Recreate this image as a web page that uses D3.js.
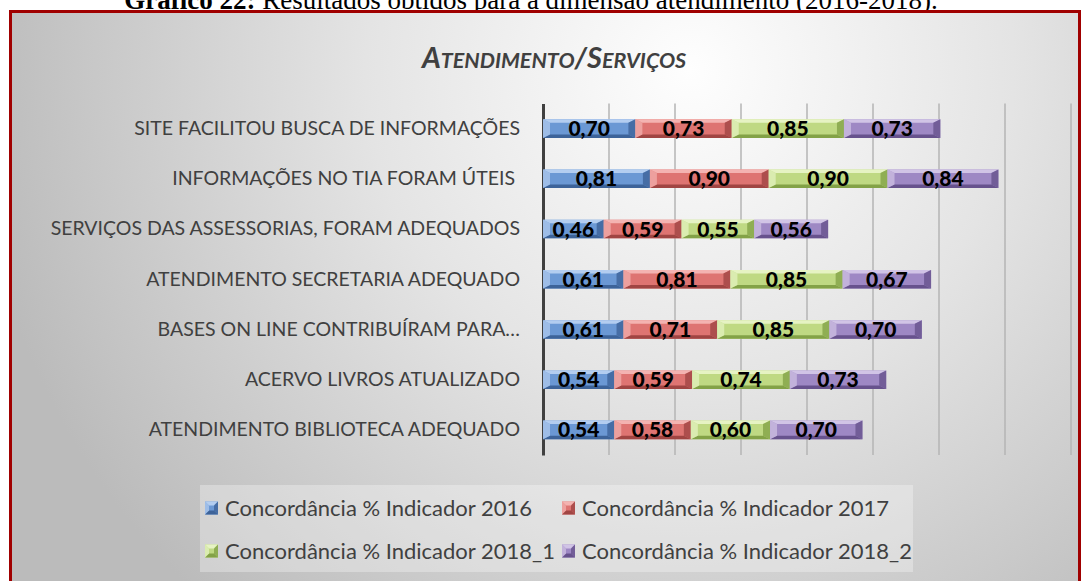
<!DOCTYPE html>
<html>
<head>
<meta charset="utf-8">
<script src="https://cdn.jsdelivr.net/npm/d3@7"></script>
<style>
  body { margin: 0; background: #fff; }
  svg { display: block; }
</style>
</head>
<body>
<div id="chart"></div>
<script>
// chart size
var width = 1085;
var height = 581;

// data
const categories = [
  "SITE FACILITOU BUSCA DE INFORMAÇÕES",
  "INFORMAÇÕES NO TIA FORAM ÚTEIS ",
  "SERVIÇOS DAS ASSESSORIAS, FORAM ADEQUADOS",
  "ATENDIMENTO SECRETARIA ADEQUADO",
  "BASES ON LINE CONTRIBUÍRAM PARA…",
  "ACERVO LIVROS ATUALIZADO",
  "ATENDIMENTO BIBLIOTECA ADEQUADO"
];
const seriesNames = [
  "Concordância % Indicador 2016",
  "Concordância % Indicador 2017",
  "Concordância % Indicador 2018_1",
  "Concordância % Indicador 2018_2"
];
const values2016 = [0.70, 0.81, 0.46, 0.61, 0.61, 0.54, 0.54];
const values2017 = [0.73, 0.90, 0.59, 0.81, 0.71, 0.59, 0.58];
const values2018_1 = [0.85, 0.90, 0.55, 0.85, 0.85, 0.74, 0.60];
const values2018_2 = [0.73, 0.84, 0.56, 0.67, 0.70, 0.73, 0.70];
const xTicks = [0, 0.5, 1, 1.5, 2, 2.5, 3, 3.5, 4];

// colours for each series: base, light (top bevel), dark (bottom bevel)
const colors = [
  { base: "#6b98d4", light: "#b3cdf0", dark: "#3d6399" },
  { base: "#de7472", light: "#f4b3b1", dark: "#a04543" },
  { base: "#bfd983", light: "#e6f3c3", dark: "#83a247" },
  { base: "#9e88c4", light: "#d1c4e6", dark: "#67528d" }
];

// build rows for the stack
const rows = categories.map((c, i) => ({
  cat: c,
  s0: values2016[i],
  s1: values2017[i],
  s2: values2018_1[i],
  s3: values2018_2[i]
}));
const stacked = d3.stack().keys(["s0", "s1", "s2", "s3"])(rows);

let svg = d3.select("#chart")
  .append("svg")
  .attr("width", width)
  .attr("height", height);

// background gradient inside the frame
let defs = svg.append("defs");
let bg = defs.append("radialGradient")
  .attr("id", "bg")
  .attr("gradientUnits", "userSpaceOnUse")
  .attr("cx", 690).attr("cy", 70).attr("r", 720);
bg.append("stop").attr("offset", "0").attr("stop-color", "#fefefe");
bg.append("stop").attr("offset", "0.45").attr("stop-color", "#e4e4e4");
bg.append("stop").attr("offset", "1").attr("stop-color", "#bbbbbb");

// caption above the frame (cut off at the top, as in the source)
svg.append("text")
  .attr("x", 531)
  .attr("y", 9)
  .attr("text-anchor", "middle")
  .style("font-family", "Liberation Serif")
  .style("font-size", "27px")
  .style("fill", "#000")
  .call(t => {
    t.append("tspan").style("font-weight", "bold").text("Gráfico 22:");
    t.append("tspan").text(" Resultados obtidos para a dimensão atendimento (2016-2018).");
  });

// frame
svg.append("rect")
  .attr("x", 10.5)
  .attr("y", 11.5)
  .attr("width", 1069)
  .attr("height", 620)
  .attr("fill", "url(#bg)")
  .attr("stroke", "#a00000")
  .attr("stroke-width", 3);

// title with small caps
let title = svg.append("text")
  .attr("x", 554)
  .attr("y", 68)
  .attr("text-anchor", "middle")
  .style("font-family", "Lato")
  .style("font-weight", "bold")
  .style("font-style", "italic")
  .style("fill", "#404040");
title.append("tspan").style("font-size", "29px").text("A");
title.append("tspan").style("font-size", "21.5px").text("TENDIMENTO");
title.append("tspan").style("font-size", "29px").text("/S");
title.append("tspan").style("font-size", "21.5px").text("ERVIÇOS");

// scales
let x = d3.scaleLinear().domain([0, 4]).range([543, 1071]);
let y = d3.scaleBand().domain(categories).range([103.5, 455])
  .paddingInner(0.63).paddingOuter(0.315);

// gridlines
svg.append("g")
  .selectAll("line")
  .data(xTicks.slice(1))
  .enter()
  .append("line")
  .attr("x1", d => x(d)).attr("x2", d => x(d))
  .attr("y1", 103.5).attr("y2", 455)
  .attr("stroke", "#b5b5b5")
  .attr("stroke-width", 1.5);

// category axis
let yAxis = svg.append("g")
  .attr("transform", "translate(" + x(0) + ",0)")
  .call(d3.axisLeft(y).tickSize(0).tickPadding(23));
yAxis.select(".domain").attr("stroke", "#404040").attr("stroke-width", 3);
yAxis.selectAll("text")
  .style("font-family", "Lato")
  .style("font-size", "19.5px")
  .style("fill", "#404040")
  .style("white-space", "pre");

// bevelled bar pieces
function bevel(g, x0, x1, y0, y1, c, bx, by) {
  g.append("polygon")
    .attr("points", [[x0, y0], [x1, y0], [x1, y1], [x0, y1]].join(" "))
    .attr("fill", c.base);
  g.append("polygon")
    .attr("points", [[x0, y0], [x1, y0], [x1 - bx, y0 + by], [x0 + bx, y0 + by]].join(" "))
    .attr("fill", c.light);
  g.append("polygon")
    .attr("points", [[x0, y1], [x1, y1], [x1 - bx, y1 - by], [x0 + bx, y1 - by]].join(" "))
    .attr("fill", c.dark);
  g.append("polygon")
    .attr("points", [[x0, y0], [x0 + bx, y0 + by], [x0 + bx, y1 - by], [x0, y1]].join(" "))
    .attr("fill", c.light).attr("opacity", 0.7);
  g.append("polygon")
    .attr("points", [[x1, y0], [x1 - bx, y0 + by], [x1 - bx, y1 - by], [x1, y1]].join(" "))
    .attr("fill", c.dark).attr("opacity", 0.8);
}

let fmt = d => d3.format(".2f")(d).replace(".", ",");

let bars = svg.append("g");
stacked.forEach((layer, si) => {
  layer.forEach(d => {
    let g = bars.append("g");
    let x0 = x(d[0]), x1 = x(d[1]);
    let y0 = y(d.data.cat), y1 = y0 + y.bandwidth();
    bevel(g, x0, x1, y0, y1, colors[si], 7, 3.5);
  });
});

// value labels
stacked.forEach(layer => {
  svg.append("g")
    .selectAll("text")
    .data(layer)
    .enter()
    .append("text")
    .attr("x", d => (x(d[0]) + x(d[1])) / 2)
    .attr("y", d => y(d.data.cat) + y.bandwidth() / 2 + 7.5)
    .attr("text-anchor", "middle")
    .style("font-family", "Lato")
    .style("font-weight", "900")
    .style("font-size", "21px")
    .style("fill", "#000")
    .text(d => fmt(d[1] - d[0]));
});

// legend
svg.append("rect")
  .attr("x", 200).attr("y", 485)
  .attr("width", 713).attr("height", 87)
  .attr("fill", "#ffffff").attr("opacity", 0.3);

const legendX = [205, 562];
const legendY = [508, 551];
seriesNames.forEach((name, i) => {
  let lx = legendX[i % 2], ly = legendY[Math.floor(i / 2)];
  let g = svg.append("g");
  bevel(g, lx, lx + 13, ly - 6.5, ly + 6.5, colors[i], 4, 4);
  svg.append("text")
    .attr("x", lx + 20)
    .attr("y", ly + 7.5)
    .style("font-family", "Lato")
    .style("font-size", "22px")
    .style("fill", "#404040")
    .text(name);
});
</script>
</body>
</html>
